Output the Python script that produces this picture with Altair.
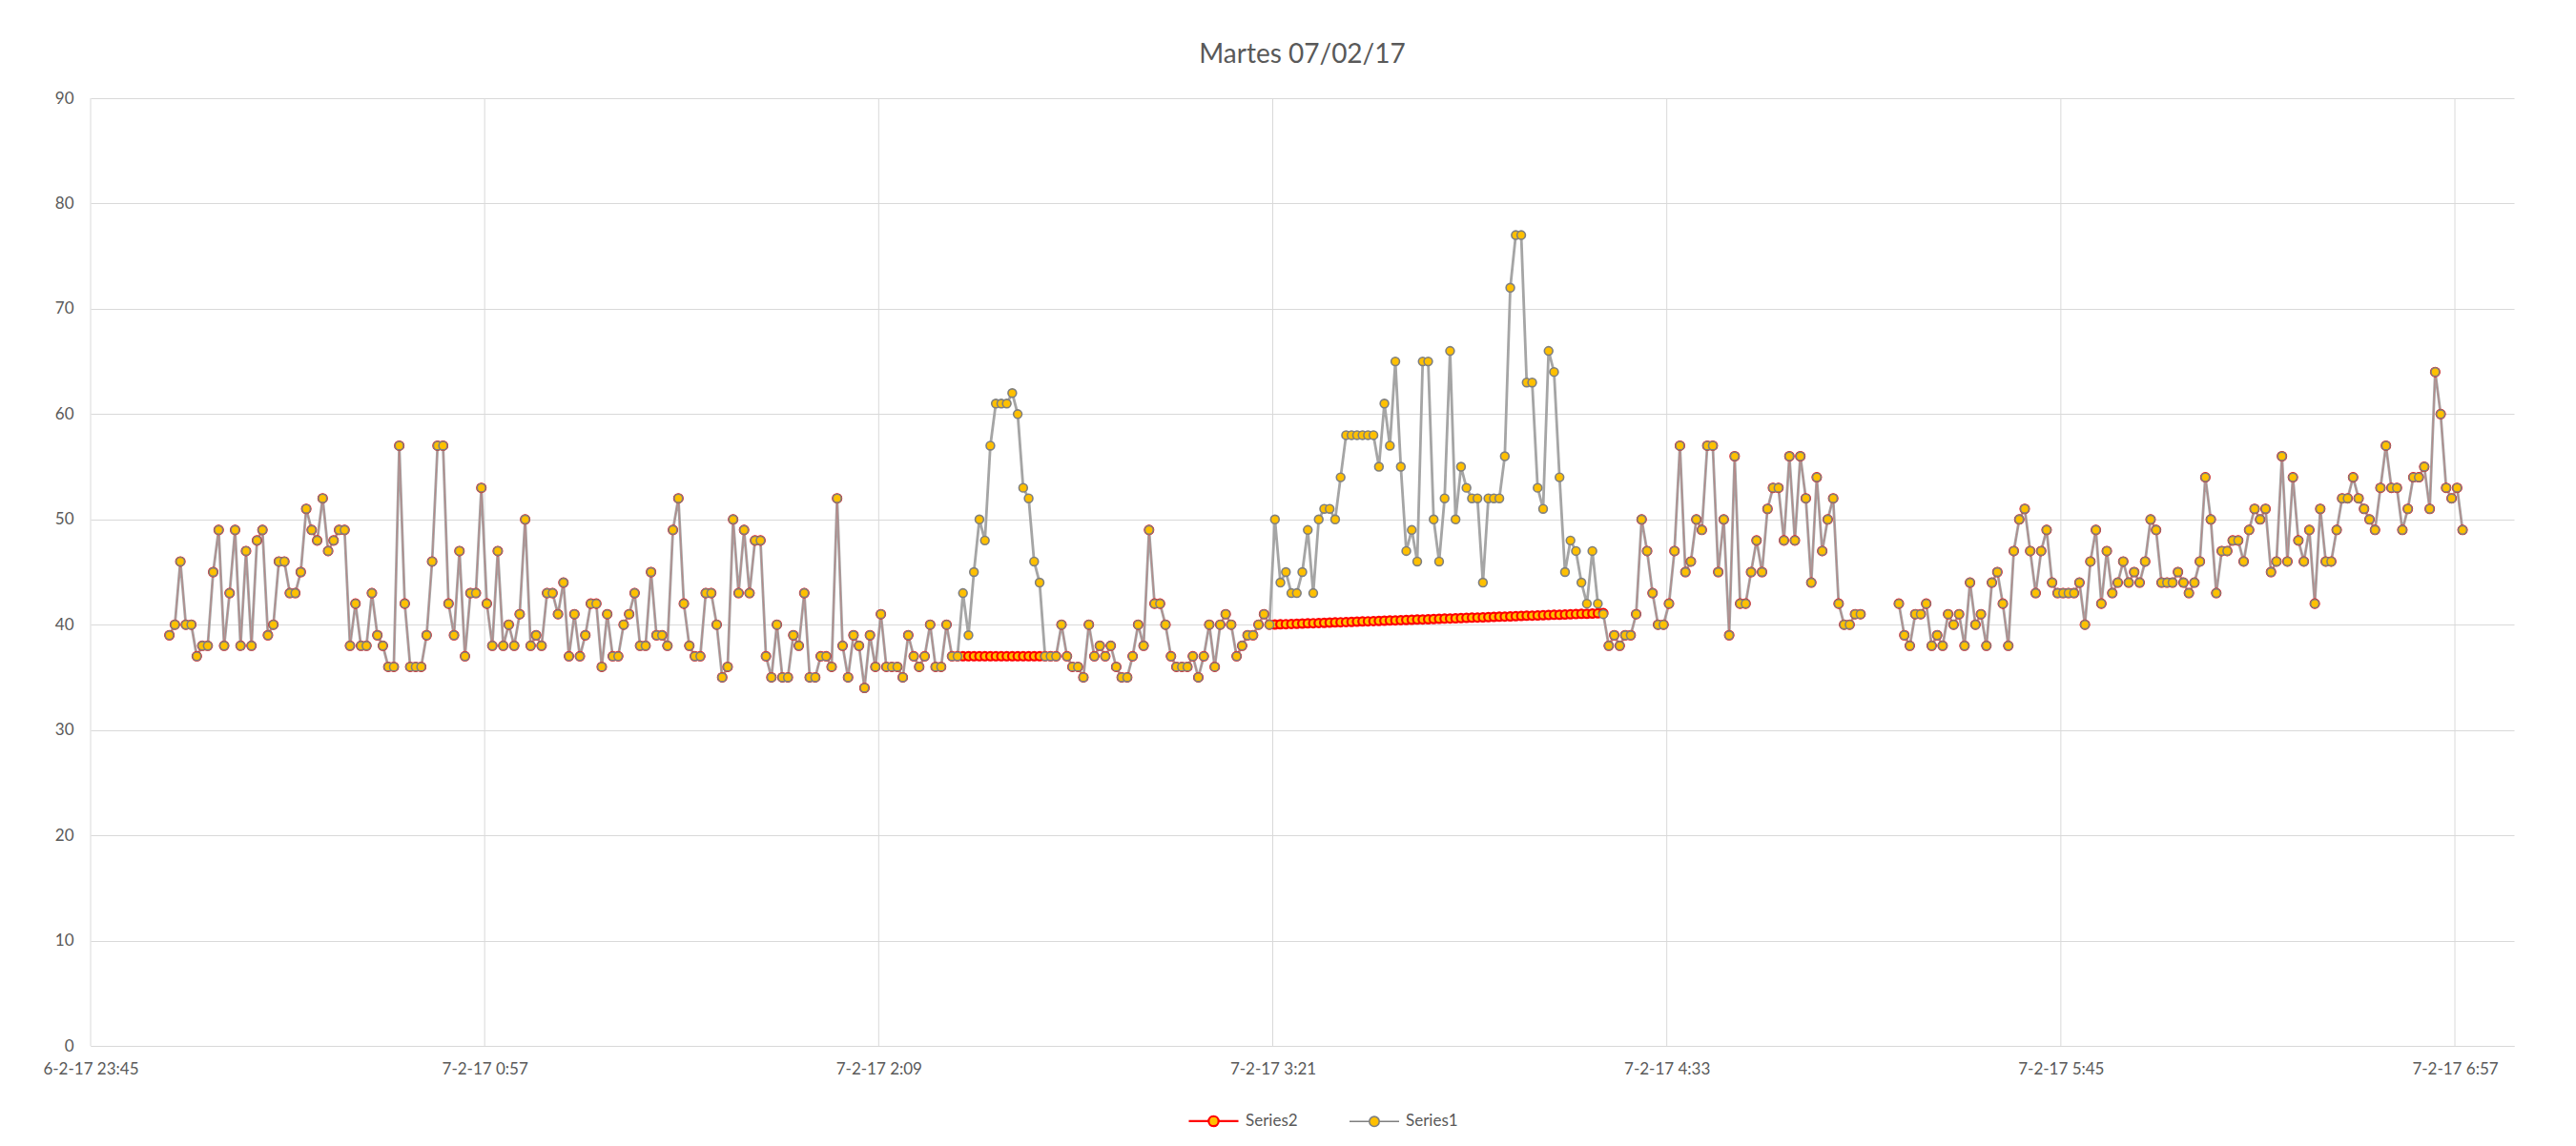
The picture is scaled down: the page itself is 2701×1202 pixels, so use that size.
import altair as alt
import pandas as pd

title_text = "Martes 07/02/17"
series_names = ["Series2", "Series1"]
start_time = "2017-02-06 23:59:24"

# Series1: one reading per minute (None = missing minutes)
series1_values = [
    39, 40, 46, 40, 40, 37, 38, 38, 45, 49, 38, 43, 49, 38, 47, 38, 48, 49, 39, 40,
    46, 46, 43, 43, 45, 51, 49, 48, 52, 47, 48, 49, 49, 38, 42,
    38, 38, 43, 39, 38, 36, 36, 57, 42, 36, 36, 36, 39, 46, 57, 57, 42, 39, 47, 37,
    43, 43, 53, 42, 38, 47, 38, 40, 38, 41, 50, 38, 39, 38, 43, 43,
    41, 44, 37, 41, 37, 39, 42, 42, 36, 41, 37, 37, 40, 41, 43, 38, 38, 45, 39, 39,
    38, 49, 52, 42, 38, 37, 37, 43, 43, 40, 35, 36, 50, 43, 49,
    43, 48, 48, 37, 35, 40, 35, 35, 39, 38, 43, 35, 35, 37, 37, 36, 52, 38, 35, 39,
    38, 34, 39, 36, 41, 36, 36, 36, 35, 39, 37, 36, 37, 40, 36, 36,
    40, 37, 37, 43, 39, 45, 50, 48, 57, 61, 61, 61, 62, 60, 53, 52, 46, 44, 37, 37,
    37, 40, 37, 36, 36, 35, 40, 37, 38, 37, 38, 36, 35, 35, 37, 40,
    38, 49, 42, 42, 40, 37, 36, 36, 36, 37, 35, 37, 40, 36, 40, 41, 40, 37, 38, 39,
    39, 40, 41, 40, 50, 44, 45, 43, 43, 45, 49, 43, 50, 51, 51, 50,
    54, 58, 58, 58, 58, 58, 58, 55, 61, 57, 65, 55, 47, 49, 46, 65, 65, 50, 46, 52,
    66, 50, 55, 53, 52, 52, 44, 52, 52, 52, 56, 72, 77, 77, 63,
    63, 53, 51, 66, 64, 54, 45, 48, 47, 44, 42, 47, 42, 41, 38, 39, 38, 39, 39, 41,
    50, 47, 43, 40, 40, 42, 47, 57, 45, 46, 50, 49, 57, 57, 45, 50,
    39, 56, 42, 42, 45, 48, 45, 51, 53, 53, 48, 56, 48, 56, 52, 44, 54, 47, 50, 52,
    42, 40, 40, 41, 41,
    None, None, None, None, None, None,
    42, 39, 38, 41, 41,
    42, 38, 39, 38, 41, 40, 41, 38, 44, 40, 41, 38, 44, 45, 42, 38, 47, 50, 51, 47,
    43, 47, 49, 44, 43, 43, 43, 43, 44, 40, 46, 49, 42, 47, 43,
    44, 46, 44, 45, 44, 46, 50, 49, 44, 44, 44, 45, 44, 43, 44, 46, 54, 50, 43, 47,
    47, 48, 48, 46, 49, 51, 50, 51, 45, 46, 56, 46, 54, 48, 46, 49, 42,
    51, 46, 46, 49, 52, 52, 54, 52, 51, 50, 49, 53, 57, 53, 53, 49, 51, 54, 54, 55,
    51, 64, 60, 53, 52, 53, 49,
]

# Series2 equals Series1 except in two corrected stretches
seg_a_start = 145  # 1-based reading number
seg_a_values = [37, 37, 37, 37, 37, 37, 37, 37, 37, 37, 37, 37, 37, 37, 37, 37, 37]
seg_b_start = 202
seg_b_values = [
    40.00, 40.02, 40.04, 40.05, 40.07, 40.09, 40.11, 40.13, 40.14, 40.16,
    40.18, 40.20, 40.22, 40.23, 40.25, 40.27, 40.29, 40.31, 40.32, 40.34,
    40.36, 40.38, 40.40, 40.41, 40.43, 40.45, 40.47, 40.49, 40.50, 40.52,
    40.54, 40.56, 40.58, 40.59, 40.61, 40.63, 40.65, 40.67, 40.68, 40.70,
    40.72, 40.74, 40.76, 40.77, 40.79, 40.81, 40.83, 40.85, 40.86, 40.88,
    40.90, 40.92, 40.94, 40.95, 40.97, 40.99, 41.01, 41.03, 41.04, 41.06,
    41.08, 41.10,
]

# x-axis tick times (every 72 minutes)
tick_times = ["2017-02-06T23:45:00", "2017-02-07T00:57:00", "2017-02-07T02:09:00",
              "2017-02-07T03:21:00", "2017-02-07T04:33:00", "2017-02-07T05:45:00",
              "2017-02-07T06:57:00"]

series2_values = list(series1_values)
for k, v in enumerate(seg_a_values):
    series2_values[seg_a_start - 1 + k] = v
for k, v in enumerate(seg_b_values):
    series2_values[seg_b_start - 1 + k] = v

times = pd.date_range(start_time, periods=len(series1_values), freq="min")

rows = []
for name, vals, z in [("Series2", series2_values, 0), ("Series1", series1_values, 1)]:
    seg = 0
    for t, v in zip(times, vals):
        if v is None:
            seg = 1
            continue
        rows.append({"time": t.strftime("%Y-%m-%dT%H:%M:%S"), "value": v,
                     "series": name, "seg": seg, "z": z})
df = pd.DataFrame(rows)
ticks_df = pd.DataFrame({"time": tick_times})

def dt(d, h, m, s=0):
    return alt.DateTime(year=2017, month=2, date=d, hours=h, minutes=m, seconds=s)

tick_values = [dt(6, 23, 45), dt(7, 0, 57), dt(7, 2, 9), dt(7, 3, 21),
               dt(7, 4, 33), dt(7, 5, 45), dt(7, 6, 57)]

FONT = "Lato"
GRID = "#D9D9D9"
TXT = "#595959"

x_scale = alt.Scale(domain=[dt(6, 23, 45), dt(7, 7, 7, 48)], nice=False)
x_enc = alt.X(
    "time:T",
    scale=x_scale,
    axis=alt.Axis(values=tick_values, format="%-d-%-m-%y %-H:%M", title=None,
                  grid=False, ticks=False,
                  domain=True, domainColor=GRID, domainWidth=1,
                  labelFont=FONT, labelFontSize=17, labelColor=TXT,
                  labelPadding=16, labelFlush=False),
)
y_enc = alt.Y(
    "value:Q",
    scale=alt.Scale(domain=[0, 90], nice=False, zero=True),
    axis=alt.Axis(values=list(range(0, 91, 10)), title=None, grid=True,
                  gridColor=GRID, gridWidth=1, ticks=False, domain=False,
                  labelFont=FONT, labelFontSize=17, labelColor=TXT,
                  labelPadding=18),
)

vgrid = alt.Chart(ticks_df).mark_rule(color=GRID, strokeWidth=1).encode(
    x=alt.X("time:T", scale=x_scale)
)

base = alt.Chart(df)

line1 = base.transform_filter(alt.datum.series == "Series1").mark_line(
    color="#A5A5A5", strokeWidth=2.8
).encode(x=x_enc, y=y_enc, detail="seg:N")

line2 = base.transform_filter(alt.datum.series == "Series2").mark_line(
    color="#FF0000", strokeWidth=1, opacity=0.18
).encode(x=x_enc, y=y_enc, detail="seg:N")

legend_path = ("M-1,0L-0.2,0M0.2,0L1,0"
               "M0.2,0A0.2,0.2,0,1,1,-0.2,0A0.2,0.2,0,1,1,0.2,0Z")

points = base.mark_point(
    filled=True, fill="#FFC000", size=78, opacity=1
).encode(
    x=x_enc,
    y=y_enc,
    stroke=alt.Stroke(
        "series:N",
        scale=alt.Scale(domain=series_names, range=["#FF0000", "#7F7F7F"]),
        legend=alt.Legend(
            title=None, orient="none", direction="horizontal",
            legendX=1150, legendY=1045,
            symbolType=legend_path, symbolSize=2704, symbolFillColor="#FFC000",
            symbolStrokeWidth=2.2, symbolOpacity=1,
            labelFont=FONT, labelFontSize=17, labelColor=TXT,
            labelOffset=6, columnPadding=50,
        ),
    ),
    strokeWidth=alt.StrokeWidth(
        "series:N",
        scale=alt.Scale(domain=series_names, range=[2.2, 1.6]),
        legend=None,
    ),
    order=alt.Order("z:Q"),
)

chart = alt.layer(vgrid, line1, line2, points).properties(
    width=2541,
    height=994,
    title=alt.TitleParams(title_text, font=FONT, fontSize=28, fontWeight="normal",
                          color=TXT, anchor="middle", offset=22),
    autosize=alt.AutoSizeParams(type="none"),
    padding={"left": 87, "top": 95, "right": 50, "bottom": 88},
).configure(background="white").configure_view(stroke="transparent", strokeWidth=0)

chart.save("out.html", embed_options={"renderer": "svg", "actions": False})
